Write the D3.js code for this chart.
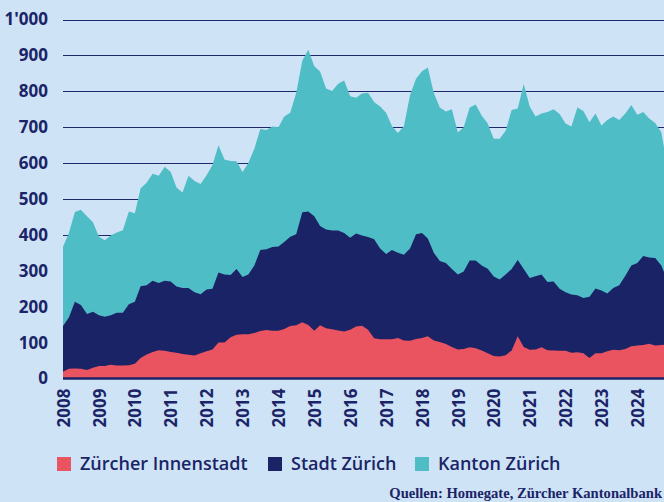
<!DOCTYPE html>
<html>
<head>
<meta charset="utf-8">
<script src="https://cdn.jsdelivr.net/npm/d3@7"></script>
<style>
  body { margin: 0; background: #cee3f6; }
  svg { display: block; }
</style>
</head>
<body>
<div id="chart"></div>
<script>
const dates = [
  "2008-01","2008-03","2008-05","2008-07","2008-09","2008-11",
  "2009-01","2009-03","2009-05","2009-07","2009-09","2009-11",
  "2010-01","2010-03","2010-05","2010-07","2010-09","2010-11",
  "2011-01","2011-03","2011-05","2011-07","2011-09","2011-11",
  "2012-01","2012-03","2012-05","2012-07","2012-09","2012-11",
  "2013-01","2013-03","2013-05","2013-07","2013-09","2013-11",
  "2014-01","2014-03","2014-05","2014-07","2014-09","2014-11",
  "2015-01","2015-03","2015-05","2015-07","2015-09","2015-11",
  "2016-01","2016-03","2016-05","2016-07","2016-09","2016-11",
  "2017-01","2017-03","2017-05","2017-07","2017-09","2017-11",
  "2018-01","2018-03","2018-05","2018-07","2018-09","2018-11",
  "2019-01","2019-03","2019-05","2019-07","2019-09","2019-11",
  "2020-01","2020-03","2020-05","2020-07","2020-09","2020-11",
  "2021-01","2021-03","2021-05","2021-07","2021-09","2021-11",
  "2022-01","2022-03","2022-05","2022-07","2022-09","2022-11",
  "2023-01","2023-03","2023-05","2023-07","2023-09","2023-11",
  "2024-01","2024-03","2024-05","2024-07","2024-09","2024-10"
];

const kantonZuerich = [
  367,405,464,470,452,435,
  395,385,398,407,413,465,
  460,530,545,570,565,590,
  575,532,518,565,550,542,
  566,595,650,610,606,605,
  575,600,640,695,692,702,
  700,730,740,795,885,916,
  870,855,808,801,821,830,
  786,782,794,796,770,758,
  740,703,684,703,789,835,
  856,866,795,755,744,750,
  685,700,755,763,732,710,
  668,668,690,748,752,820,
  758,730,738,742,750,737,
  710,702,755,745,714,738,
  705,720,730,720,738,762,
  735,742,724,712,686,640
];

const stadtZuerich = [
  146,170,214,205,180,186,
  176,172,176,183,183,207,
  214,257,260,272,266,272,
  270,256,252,252,240,235,
  248,250,295,290,288,305,
  283,290,315,358,360,366,
  368,380,395,402,463,465,
  452,425,415,412,412,405,
  392,404,398,394,388,362,
  347,358,350,345,362,402,
  405,390,350,327,322,305,
  290,298,329,329,315,306,
  284,276,290,305,330,305,
  280,285,290,269,270,250,
  240,234,232,224,228,251,
  245,237,252,260,286,315,
  322,341,337,336,315,295
];

const innenstadt = [
  19,27,28,27,24,30,
  35,35,38,36,36,37,
  41,57,67,74,79,77,
  74,72,68,66,64,70,
  76,81,100,100,115,122,
  123,123,127,132,135,133,
  133,138,146,148,157,149,
  133,148,140,137,134,131,
  136,145,147,136,112,109,
  109,109,113,106,105,110,
  113,118,106,102,96,88,
  81,82,87,84,78,70,
  63,61,65,78,118,88,
  80,81,87,79,78,77,
  77,72,73,70,57,70,
  70,76,80,79,82,90,
  92,93,97,92,93,94
];

const yTicks = [0,100,200,300,400,500,600,700,800,900,1000];
const years = d3.range(2008, 2025);

const seriesNames = ["Zürcher Innenstadt", "Stadt Zürich", "Kanton Zürich"];
const colors = {
  "Zürcher Innenstadt": "#ea5360",
  "Stadt Zürich": "#1a2366",
  "Kanton Zürich": "#4fbdc6"
};
const textColor = "#1b2466";

const W = 664, H = 502;
const left = 63, right = 664;

const parseMonth = d3.timeParse("%Y-%m");
const rows = dates.map((d, i) => ({
  date: parseMonth(d),
  kanton: kantonZuerich[i],
  stadt: stadtZuerich[i],
  innen: innenstadt[i]
}));

const x = d3.scaleTime()
  .domain([new Date(2008, 0, 1), new Date(2025, 0, 1)])
  .range([left, left + 17 * 35.9]);
const y = d3.scaleLinear().domain([0, 1000]).range([378.5, 19.5]);

const svg = d3.select("#chart").append("svg")
  .attr("width", W)
  .attr("height", H)
  .style("background", "#cee3f6");

// gridlines
svg.append("g")
  .selectAll("line")
  .data(yTicks.filter(t => t > 0))
  .enter().append("line")
  .attr("x1", left)
  .attr("x2", right)
  .attr("y1", d => Math.round(y(d)) + 0.5)
  .attr("y2", d => Math.round(y(d)) + 0.5)
  .attr("stroke", "#1d2868")
  .attr("stroke-width", 1.2);

function area(key) {
  return d3.area()
    .x(d => x(d.date))
    .y0(y(0))
    .y1(d => y(d[key]));
}

svg.append("path").datum(rows)
  .attr("d", area("kanton"))
  .attr("fill", colors["Kanton Zürich"]);
svg.append("path").datum(rows)
  .attr("d", area("stadt"))
  .attr("fill", colors["Stadt Zürich"]);
svg.append("path").datum(rows)
  .attr("d", area("innen"))
  .attr("fill", colors["Zürcher Innenstadt"]);

// baseline
svg.append("line")
  .attr("x1", left).attr("x2", right)
  .attr("y1", y(0)).attr("y2", y(0))
  .attr("stroke", textColor)
  .attr("stroke-width", 2.5);

const tickFont = "'Noto Sans', 'DejaVu Sans', sans-serif";

// y axis labels
const yAxis = d3.axisLeft(y)
  .tickValues(yTicks)
  .tickSize(0)
  .tickPadding(15)
  .tickFormat(d => d >= 1000 ? "1'000" : d);

svg.append("g")
  .attr("transform", "translate(" + left + ",0)")
  .call(yAxis)
  .call(g => g.select(".domain").remove())
  .selectAll("text")
  .attr("fill", textColor)
  .style("font-family", tickFont)
  .style("font-size", "17px")
  .style("font-weight", "700");

// x axis labels
const xAxis = d3.axisBottom(x)
  .tickValues(years.map(yr => new Date(yr, 0, 1)))
  .tickSize(0)
  .tickFormat(d3.timeFormat("%Y"));

svg.append("g")
  .attr("transform", "translate(0," + y(0) + ")")
  .call(xAxis)
  .call(g => g.select(".domain").remove())
  .selectAll("text")
  .attr("x", -10)
  .attr("y", 0)
  .attr("dy", "0.36em")
  .attr("transform", "rotate(-90)")
  .style("text-anchor", "end")
  .attr("fill", textColor)
  .style("font-family", tickFont)
  .style("font-size", "17px")
  .style("font-weight", "700");

// legend
const legendX = [57, 268, 415];
const legend = svg.append("g");
seriesNames.forEach((name, i) => {
  legend.append("rect")
    .attr("x", legendX[i])
    .attr("y", 457)
    .attr("width", 14)
    .attr("height", 14)
    .attr("fill", colors[name]);
  legend.append("text")
    .attr("x", legendX[i] + 23)
    .attr("y", 464)
    .attr("dy", "0.36em")
    .attr("fill", textColor)
    .style("font-family", "'Open Sans', sans-serif")
    .style("font-size", "18px")
    .style("font-weight", "600")
    .text(name);
});

// source
svg.append("text")
  .attr("x", 662)
  .attr("y", 498)
  .attr("text-anchor", "end")
  .attr("fill", textColor)
  .style("font-family", "'Liberation Serif', serif")
  .style("font-size", "14.6px")
  .style("font-weight", "700")
  .text("Quellen: Homegate, Zürcher Kantonalbank");
</script>
</body>
</html>
